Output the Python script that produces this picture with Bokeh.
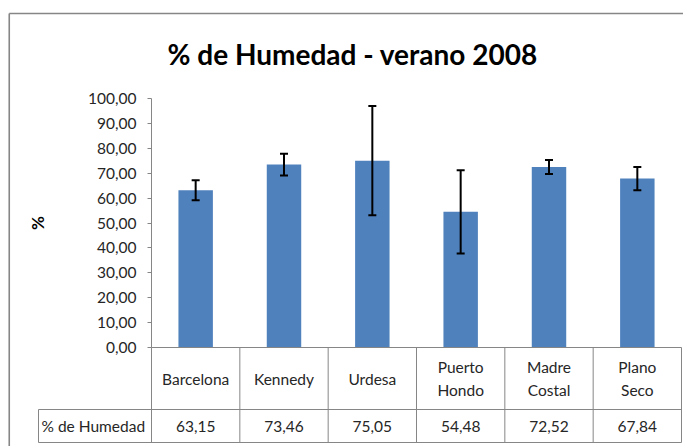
from bokeh.plotting import figure
from bokeh.models import Range1d, FixedTicker, ColumnDataSource, Whisker, TeeHead
from bokeh.core.properties import value
from bokeh.embed import file_html
from bokeh.resources import INLINE

# ---- data ----
categories = ["Barcelona", "Kennedy", "Urdesa", "Puerto Hondo", "Madre Costal", "Plano Seco"]
category_labels = ["Barcelona", "Kennedy", "Urdesa", "Puerto\nHondo", "Madre\nCostal", "Plano\nSeco"]
humedad = [63.15, 73.46, 75.05, 54.48, 72.52, 67.84]
error = [4.0, 4.4, 21.9, 16.7, 2.8, 4.7]
y_ticks = [0, 10, 20, 30, 40, 50, 60, 70, 80, 90, 100]
series_name = "% de Humedad"
title_text = "% de Humedad - verano 2008"
y_label = "%"

FONT = "Lato"
BAR = "#4F81BD"
GREY = "#868686"
TXT = "#262626"
FS = "15.5px"

def fmt(v):
    return f"{v:.2f}".replace(".", ",")

# layout constants (canvas pixels)
W, H = 683, 446
FL, FR, FT, FB = 151, 681, 98, 347   # plot-area frame
ROW1, ROW2 = 409, 442                # data-table row bottoms
TBL_L = 38                           # left edge of the table's name cell
BOX_L, BOX_T = 8.75, 13              # outer chart border

n = len(categories)
cx = [i + 0.5 for i in range(n)]     # category centres on a 0..n axis

src = ColumnDataSource(dict(
    x=cx, top=humedad,
    upper=[h + e for h, e in zip(humedad, error)],
    lower=[h - e for h, e in zip(humedad, error)],
))

p = figure(x_range=Range1d(0, n), y_range=Range1d(0, 100),
           width=W, height=H, min_border_left=FL, min_border_right=W - FR,
           min_border_top=FT, min_border_bottom=H - FB,
           output_backend="svg", toolbar_location=None, title=title_text)
p.extra_x_ranges = {"px": Range1d(FL, FR)}
p.extra_y_ranges = {"py": Range1d(FB, FT)}

p.vbar(x="x", top="top", width=0.39, source=src, fill_color=BAR, line_color=None)
wh = Whisker(base="x", upper="upper", lower="lower", source=src, level="overlay",
             line_color="black", line_width=2,
             upper_head=TeeHead(size=8, line_color="black", line_width=2),
             lower_head=TeeHead(size=8, line_color="black", line_width=2))
p.add_layout(wh)

p.xaxis.visible = False
p.grid.visible = False
p.outline_line_color = None

ya = p.yaxis[0]
ya.ticker = FixedTicker(ticks=y_ticks)
ya.major_label_overrides = {t: fmt(t) for t in y_ticks}
ya.axis_line_color = GREY
ya.major_tick_line_color = GREY
ya.major_tick_out = 4
ya.major_tick_in = 0
ya.minor_tick_line_color = None
ya.major_label_standoff = 11
ya.major_label_text_font = FONT
ya.major_label_text_font_size = FS
ya.major_label_text_color = TXT
ya.axis_label = y_label
ya.axis_label_text_font = FONT
ya.axis_label_text_font_style = "bold"
ya.axis_label_text_font_size = "17px"
ya.axis_label_text_color = "black"
ya.axis_label_standoff = 37

p.title.align = "left"
p.title.offset = 16
p.title.text_font = FONT
p.title.text_font_size = "28px"
p.title.text_font_style = "bold"
p.title.text_color = "black"
p.title.standoff = 56

# data table grid: horizontal lines
p.segment(x0=[FL, TBL_L, TBL_L], x1=[FR, FR, FR], y0=[FB, ROW1, ROW2], y1=[FB, ROW1, ROW2],
          x_range_name="px", y_range_name="py", line_color=GREY, line_width=1, level="overlay")
# vertical lines at category boundaries
vx = list(range(n + 1))
p.segment(x0=vx, x1=vx, y0=[FB] * len(vx), y1=[ROW2] * len(vx), y_range_name="py",
          line_color=GREY, line_width=1, level="overlay")
p.segment(x0=[TBL_L], x1=[TBL_L], y0=[ROW1], y1=[ROW2], x_range_name="px", y_range_name="py",
          line_color=GREY, line_width=1, level="overlay")
# outer chart border (top and left; the rest lies beyond the window)
p.segment(x0=[BOX_L, BOX_L], x1=[W, BOX_L], y0=[BOX_T, BOX_T], y1=[BOX_T, H],
          x_range_name="px", y_range_name="py",
          line_color=GREY, line_width=1.6, level="overlay")

p.text(x=cx, y=[(FB + ROW1) / 2] * n, text=category_labels, y_range_name="py",
       text_align="center", text_baseline="middle", level="overlay",
       text_font=value(FONT), text_font_size=FS, text_color=TXT, text_line_height=1.3)
p.text(x=cx, y=[(ROW1 + ROW2) / 2] * n, text=[fmt(v) for v in humedad], y_range_name="py",
       text_align="center", text_baseline="middle", level="overlay",
       text_font=value(FONT), text_font_size=FS, text_color=TXT)
p.text(x=[TBL_L + 3], y=[(ROW1 + ROW2) / 2], text=[series_name], x_range_name="px",
       y_range_name="py", text_align="left", text_baseline="middle", level="overlay",
       text_font=value(FONT), text_font_size=FS, text_color=TXT)

open("out.html", "w").write(file_html(p, INLINE))
